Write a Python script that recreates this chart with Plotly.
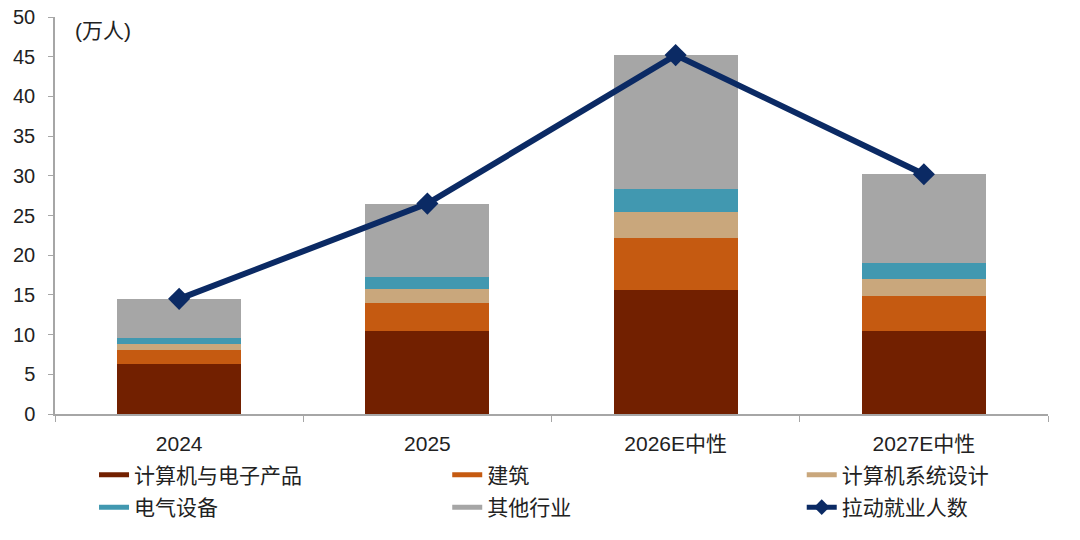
import plotly.graph_objects as go

# 数据 (单位: 万人)
categories = ["2024", "2025", "2026E中性", "2027E中性"]
computer_electronics = [6.3, 10.5, 15.6, 10.4]   # 计算机与电子产品
construction = [1.7, 3.5, 6.6, 4.4]              # 建筑
computer_design = [0.8, 1.7, 3.2, 2.2]           # 计算机系统设计
electrical = [0.8, 1.5, 3.0, 2.0]                # 电气设备
others = [4.9, 9.3, 16.8, 11.2]                  # 其他行业
total_jobs = [14.5, 26.5, 45.2, 30.2]            # 拉动就业人数

y_ticks = list(range(0, 51, 5))

FONT = "Liberation Sans, Arial, Noto Sans CJK SC"
AXIS_GRAY = "#a6a6a6"

# (名称, 数值, 颜色, 图例列)
bar_series = [
    ("计算机与电子产品", computer_electronics, "#722000", "legend"),
    ("建筑", construction, "#c55a11", "legend2"),
    ("计算机系统设计", computer_design, "#c9a77c", "legend3"),
    ("电气设备", electrical, "#4198b0", "legend"),
    ("其他行业", others, "#a6a6a6", "legend2"),
]

fig = go.Figure()

for name, vals, color, leg in bar_series:
    fig.add_trace(go.Bar(x=categories, y=vals, name=name, marker_color=color,
                         marker_line_width=0, showlegend=False))
    # 图例用粗线条代替方块
    fig.add_trace(go.Scatter(x=[None], y=[None], mode="lines", name=name, legend=leg,
                             legendgroup=name, line=dict(color=color, width=10)))

fig.add_trace(go.Scatter(x=categories, y=total_jobs, mode="lines+markers", name="拉动就业人数",
                         legend="legend3", legendgroup="拉动就业人数",
                         line=dict(color="#0b2a64", width=6),
                         marker=dict(symbol="diamond", size=17, color="#0b2a64")))

# 三列图例
legend_style = dict(orientation="v", xanchor="left", y=-0.1025, yanchor="top",
                    traceorder="grouped", tracegroupgap=2, bgcolor="rgba(0,0,0,0)",
                    font=dict(family=FONT, size=21), itemwidth=30, itemsizing="constant")

# 页面 body 默认有 8px 外边距, 边距里扣掉 (顶部留一点给 "50")
fig.update_layout(
    barmode="stack",
    bargap=0.5,
    width=1080, height=540,
    margin=dict(l=47, r=40, t=9, b=134),
    plot_bgcolor="white", paper_bgcolor="white",
    font=dict(family=FONT, size=20, color="#222222"),
    legend=dict(x=0.0393, **legend_style),
    legend2=dict(x=0.395, **legend_style),
    legend3=dict(x=0.752, **legend_style),
    annotations=[dict(text="(万人)", xref="paper", yref="paper", x=0.018, y=0.967,
                      xanchor="left", yanchor="middle", showarrow=False,
                      font=dict(family=FONT, size=21))],
)

fig.update_xaxes(showline=True, linecolor=AXIS_GRAY, linewidth=1.5, automargin=False,
                 ticks="outside", tickson="boundaries", ticklen=6, tickcolor=AXIS_GRAY,
                 ticklabelstandoff=10, showgrid=False, tickfont=dict(size=21))
fig.update_yaxes(range=[0, 50], tickvals=y_ticks, showline=True, linecolor=AXIS_GRAY,
                 linewidth=1.5, ticks="outside", ticklen=5, tickcolor=AXIS_GRAY, automargin=False,
                 ticklabelstandoff=9, ticklabeloverflow="allow", showgrid=False, zeroline=False,
                 tickfont=dict(size=20))

fig.write_html("out.html")
